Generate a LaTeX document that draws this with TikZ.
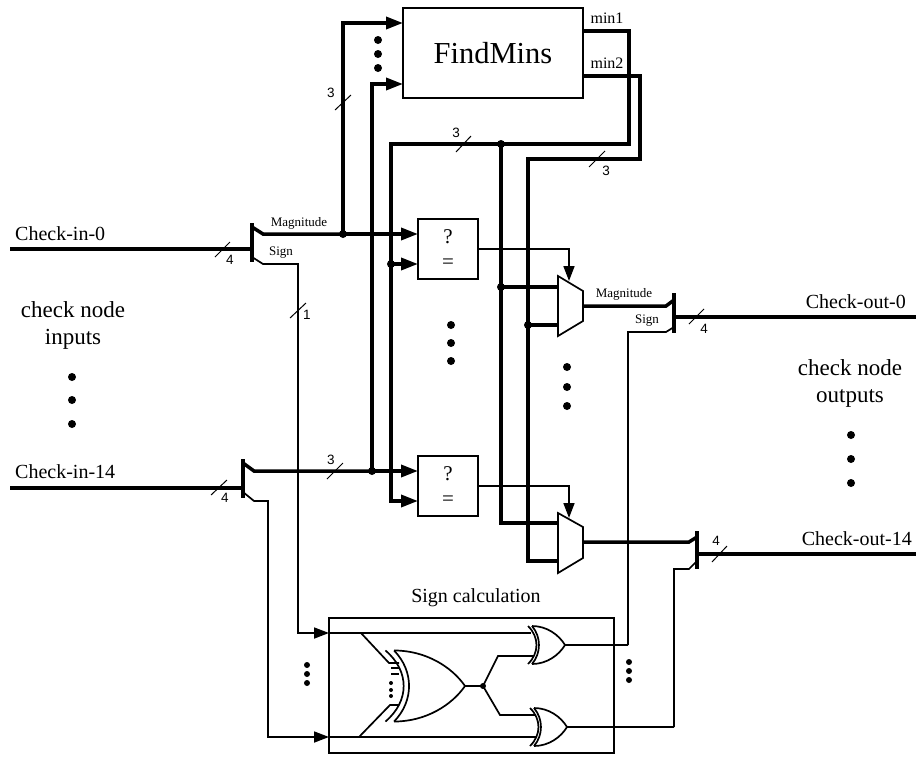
\documentclass[tikz,border=0pt]{standalone}
\usepackage{fontspec}
\setmainfont{Liberation Serif}
\setsansfont{Liberation Sans}
\usetikzlibrary{calc, positioning, arrows.meta}

\tikzset{
    bus/.style={line width=3.5pt, line join=miter},
    wire/.style={line width=1.7pt, line join=miter},
    hair/.style={line width=1pt},
    tip/.style={-{Triangle[length=17pt,width=12pt]}},
    smalltip/.style={-{Triangle[length=15pt,width=11pt]}},
    blk/.style={draw, line width=1.7pt, rectangle, align=center, inner sep=0pt, outer sep=0pt},
    dot/.style={circle, fill=black, inner sep=0pt, minimum size=8pt},
    joint/.style={circle, fill=black, inner sep=0pt, minimum size=8pt},
    tiny/.style={circle, fill=black, inner sep=0pt, minimum size=6pt},
    lbl/.style={font=\fontsize{20}{24}\selectfont, inner sep=0pt},
    side/.style={font=\fontsize{23}{27}\selectfont, align=center, inner sep=0pt},
    sub/.style={font=\fontsize{13}{15}\selectfont, inner sep=0pt},
    num/.style={font=\sffamily\fontsize{13.5}{15}\selectfont, inner sep=0pt},
    pics/xorgate/.style={code={
        \draw[wire] (-33,-19) .. controls (-18,-19) and (-6,-10) .. (0,0) .. controls (-6,10) and (-18,19) .. (-33,19);
        \draw[wire] (-33,-19) .. controls (-23.7,-8) and (-23.7,8) .. (-33,19);
        \draw[wire] (-37,-19) .. controls (-25.7,-8) and (-25.7,8) .. (-37,19);
    }}
}

\begin{document}
\begin{tikzpicture}[x=1pt, y=-1pt]
    \useasboundingbox (0,0) rectangle (916,756);

    \node[blk, minimum width=180pt, minimum height=90pt, font=\fontsize{30.5}{36}\selectfont] (findmins) at (493,53) {FindMins};
    \node[blk, minimum width=60pt, minimum height=60pt, font=\fontsize{21}{24}\selectfont] (cmpa) at (448,249) {?\\[1pt]=};
    \node[blk, minimum width=60pt, minimum height=60pt, font=\fontsize{21}{24}\selectfont] (cmpb) at (448,486) {?\\[1pt]=};
    \node[blk, minimum width=285pt, minimum height=135pt] (signcalc) at (471.5,685.5) {};

    % multiplexers
    \draw[wire] (558,276) coordinate (muxa) -- (583,291) -- (583,321) -- (558,336) -- cycle;
    \draw[wire] (558,513) coordinate (muxb) -- (583,527) -- (583,558) -- (558,573) -- cycle;

    % text
    \node[lbl, anchor=west] (chkin0) at (15,234) {Check-in-0};
    \node[lbl, anchor=west] (chkin14) at (15,472) {Check-in-14};
    \node[lbl, anchor=east] (chkout0) at (906,302) {Check-out-0};
    \node[lbl, anchor=east] (chkout14) at (912,539) {Check-out-14};
    \node[side] (inputs) at (73,325) {check node\\inputs};
    \node[side] (outputs) at (850,383) {check node\\outputs};
    \node[lbl] (signtitle) at (476,598) {Sign calculation};
    \node[sub] (minone) at (607,18) {\fontsize{16}{18}\selectfont min1};
    \node[sub] (mintwo) at (607,63) {\fontsize{16}{18}\selectfont min2};
    \node[sub] (magin) at (299,223) {Magnitude};
    \node[sub] (signin) at (281,253) {Sign};
    \node[sub] (magout) at (624,294) {Magnitude};
    \node[sub] (signout) at (647,321) {Sign};

    % waypoints
    \coordinate (ina) at (10,249);
    \coordinate (spa) at (252,249);
    \coordinate (inb) at (10,488);
    \coordinate (spb) at (243,488);
    \coordinate (outa) at (916,317);
    \coordinate (spc) at (674,317);
    \coordinate (outb) at (916,554);
    \coordinate (spd) at (697,554);

    % splitters
    \draw[bus] (252,223) coordinate (spatop) -- (252,262) coordinate (spabot);
    \draw[bus] (243,459) coordinate (spbtop) -- (243,498) coordinate (spbbot);
    \draw[bus] (674,293) coordinate (spctop) -- (674,333) coordinate (spcbot);
    \draw[bus] (697,531) coordinate (spdtop) -- (697,569) coordinate (spdbot);

    % input and output lines
    \draw[bus] (ina) -- (spa);
    \draw[bus] (inb) -- (spb);
    \draw[bus] (spc) -- (outa);
    \draw[bus] (spd) -- (outb);

    % junctions
    \node[joint] (jmag) at (343,234) {};
    \node[joint] (jmagb) at (372,471) {};
    \node[joint] (jcmpa) at (391,264) {};
    \node[joint] (jmin) at (501,144) {};
    \node[joint] (jmuxa) at (501,287) {};
    \node[joint] (jmuxb) at (528,325) {};
    \node[tiny] (jgate) at (483,686) {};

    % magnitude paths
    \draw[bus] (252,227) -- (263,234) -- (jmag.center);
    \draw[bus, tip] (jmag.center) -- (cmpa.west |- jmag);
    \draw[bus] (243,463) -- (254,471) -- (jmagb.center);
    \draw[bus, tip] (jmagb.center) -- (cmpb.west |- jmagb);
    \draw[bus, tip] (jmag.center) |- (403,23) coordinate (fmtop);
    \draw[bus, tip] (jmagb.center) |- (403,84) coordinate (fmbot);

    % minimum paths
    \draw[bus] (583,31) -- (629,31) |- (jmin.center);
    \draw[bus] (jmin.center) -| (391,144) -- (jcmpa.center);
    \draw[bus, tip] (jcmpa.center) -- (cmpa.west |- jcmpa);
    \draw[bus, tip] (jcmpa.center) |- (418,501) coordinate (cmpblow);
    \draw[bus] (583,76) -- (640,76) |- (528,159) -- (jmuxb.center);
    \draw[bus] (jmin.center) -- (jmuxa.center);
    \draw[bus] (jmuxa.center) -- (558,287);
    \draw[bus] (jmuxb.center) -- (558,325);
    \draw[bus] (jmuxa.center) |- (558,523);
    \draw[bus] (jmuxb.center) |- (558,561);

    % mux select
    \draw[wire, smalltip] (cmpa.east) -| (569,281);
    \draw[wire, smalltip] (cmpb.east) -| (569,518);

    % mux outputs
    \draw[bus] (583,306) -- (666,306) -- (spctop |- 0,300);
    \draw[bus] (583,542) -- (689,542) -- (spdtop |- 0,537);

    % sign paths
    \draw[wire, smalltip] (252,257) -- (263,264) -| (298,633) -- (signcalc.west |- 0,633);
    \draw[wire, smalltip] (243,492) -- (254,501) -| (268,737) -- (signcalc.west |- 0,737);
    \draw[wire] (674,327) -- (666,332) -| (628,645) coordinate (xoraout);
    \draw[wire] (697,561) -- (689,569) -| (674,727) coordinate (xorbout);

    % gates
    \pic (xortop) at (565,645) {xorgate};
    \pic (xorlow) at (567,727) {xorgate};
    \pic[xscale=2.15, yscale=1.87] (xorbig) at (465,686) {xorgate};
    \draw[wire] (565,645) -- (xoraout);
    \draw[wire] (567,727) -- (xorbout);
    \draw[wire] (465,686) -- (jgate.center);
    \draw[wire] (jgate.center) -- (498,656) -- (533,656);
    \draw[wire] (jgate.center) -- (500,715) -- (536,715);
    \draw[wire] (signcalc.west |- 0,633) -- (531,633);
    \draw[wire] (signcalc.west |- 0,737) -- (536,737);
    \draw[wire] (361,633) -- (389,663) -- (399,663);
    \draw[wire] (391,668) -- (399,668);
    \draw[wire] (391,674) -- (399,674);
    \draw[wire] (359,737) -- (390,705) -- (399,705);

    % bus width marks
    \draw[hair] (215,257) -- (230,242);
    \node[num] (wa) at (230,260) {4};
    \draw[hair] (211,495) -- (227,480);
    \node[num] (wb) at (225,498) {4};
    \draw[hair] (290,318) -- (306,303);
    \node[num] (wc) at (307,315) {1};
    \draw[hair] (327,479) -- (343,463);
    \node[num] (wd) at (331,460) {3};
    \draw[hair] (335,110) -- (351,95);
    \node[num] (we) at (331,93) {3};
    \draw[hair] (456,152) -- (471,136);
    \node[num] (wf) at (456,133) {3};
    \draw[hair] (589,167) -- (605,151);
    \node[num] (wg) at (606,171) {3};
    \draw[hair] (689,324) -- (704,309);
    \node[num] (wh) at (704,329) {4};
    \draw[hair] (712,562) -- (727,546);
    \node[num] (wi) at (716,541) {4};

    % ellipsis dots
    \node[dot] (da) at (378,40) {}; \node[dot] (db) at (378,54) {}; \node[dot] (dc) at (378,68) {};
    \node[dot] (dd) at (451,325) {}; \node[dot] (de) at (451,343) {}; \node[dot] (df) at (451,361) {};
    \node[dot] (dg) at (567,367) {}; \node[dot] (dh) at (567,387) {}; \node[dot] (di) at (567,406) {};
    \node[dot] (dj) at (72,377) {}; \node[dot] (dk) at (72,400) {}; \node[dot] (dl) at (72,424) {};
    \node[dot] (dm) at (851,435) {}; \node[dot] (dn) at (851,459) {}; \node[dot] (do) at (851,483) {};
    \node[tiny] (dp) at (307,665) {}; \node[tiny] (dq) at (307,674) {}; \node[tiny] (dr) at (307,683) {};
    \node[tiny] (ds) at (629,662) {}; \node[tiny] (dt) at (629,671) {}; \node[tiny] (du) at (629,680) {};
    \node[tiny, minimum size=4pt] (dv) at (391,683) {}; \node[tiny, minimum size=4pt] (dw) at (391,690) {}; \node[tiny, minimum size=4pt] (dx) at (391,696) {};
\end{tikzpicture}
\end{document}
